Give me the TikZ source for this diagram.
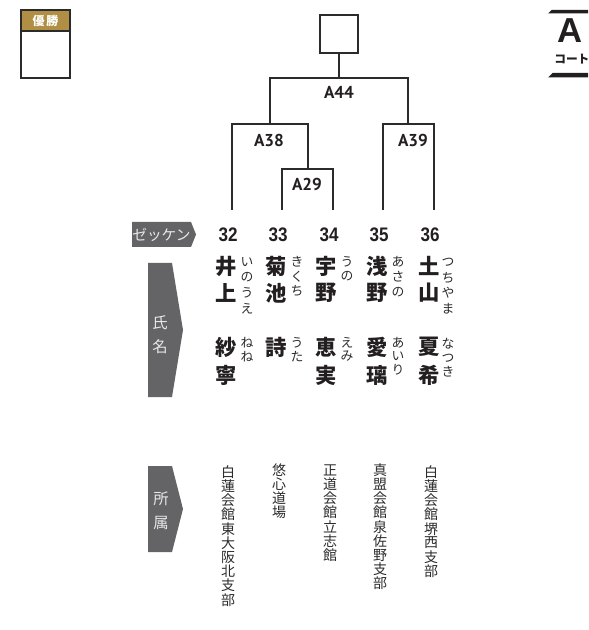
\documentclass[tikz,border=0pt]{standalone}
\usepackage{fontspec}
\setmainfont{Liberation Sans}
\newfontfamily\jp{Noto Sans CJK JP}
\newfontfamily\lab{PT Sans}
\definecolor{ink}{HTML}{2B2B2B}
\definecolor{tagc}{HTML}{646466}
\definecolor{gold}{HTML}{B08F45}
\definecolor{tagtxt}{HTML}{E8E8E8}
\definecolor{txt}{HTML}{231F20}
\newcommand\vstk[6]{% style, name, x, y of first, step, list
  \foreach \c [count=\i from 0] in {#6} {\node[#1] (#2-\i) at ({#3},{#4+\i*#5}) {\c};}}
\begin{document}
\begin{tikzpicture}[x=0.75pt,y=-0.75pt,
  br/.style={draw=ink,line width=1.5pt,line join=miter},
  rnd/.style={font=\lab\bfseries\fontsize{12.9}{14}\selectfont,text=txt,inner sep=0,anchor=base},
  num/.style={font=\bfseries\fontsize{14.7}{16}\selectfont,text=txt,inner sep=0,anchor=base},
  kj/.style={font=\jp\bfseries\fontsize{16}{18}\selectfont,text=txt,inner sep=0},
  fr/.style={font=\jp\fontsize{9.6}{10}\selectfont,text=ink,inner sep=0},
  af/.style={font=\jp\fontsize{10.5}{11}\selectfont,text=ink,inner sep=0},
  tg/.style={font=\jp\fontsize{11}{12}\selectfont,text=tagtxt,inner sep=0}]
\useasboundingbox (0,0) rectangle (588,630);
\clip (0,0) rectangle (588,630);
% winner badge
\fill[gold] (21,10) rectangle (70,31);
\draw[ink,line width=1.1pt] (21,31) -- (70,31);
\draw[ink,line width=1.8pt] (21,10) rectangle (70,78);
\node[font=\jp\bfseries\fontsize{9}{10}\selectfont,text=white,inner sep=0] (yusho) at (45.5,20.5) {優\,勝};
% court mark
\fill[txt] (548,13.5) -- (551.5,10) -- (600,10) -- (600,13.5) -- cycle;
\fill[txt] (548,77.5) -- (552.5,73) -- (600,73) -- (600,77.5) -- cycle;
\node[font=\bfseries\fontsize{26}{27}\selectfont,text=txt,inner sep=0,anchor=base] (courtA) at (570.5,42.5) {A};
\node[font=\jp\bfseries\fontsize{8.8}{9}\selectfont,text=txt,inner sep=0,anchor=west] (court) at (554,59) {コート};
% bracket
\node[draw=ink,line width=1.2pt,minimum size=28.5pt,inner sep=0] (champ) at (339,34) {};
\coordinate (c32) at (232,210);
\coordinate (c33) at (282,210);
\coordinate (c34) at (332.5,210);
\coordinate (c35) at (383,210);
\coordinate (c36) at (433.5,210);
\coordinate (j29) at (307.5,169);
\coordinate (j38) at (270,124);
\coordinate (j39) at (408,124);
\coordinate (j44) at (339,78);
\draw[br] (c33) |- (j29) -| (c34);
\draw[br] (c32) |- (j38) -| (j29);
\draw[br] (c35) |- (j39) -| (c36);
\draw[br] (j38) |- (j44) -| (j39);
\draw[br] (j44) -- (champ.south);
\node[rnd] (lA44) at (339,99) {A44};
\node[rnd] (lA38) at (269,147) {A38};
\node[rnd] (lA39) at (413,147) {A39};
\node[rnd] (lA29) at (307,191) {A29};
% side tags
\fill[tagc] (132,222) -- (191,222) -- (196,234.5) -- (191,247) -- (132,247) -- cycle;
\node[tg] (tz) at (161.5,234.5) {ゼッケン};
\fill[tagc] (148,263) -- (172,263) -- (183,330) -- (172,397) -- (148,397) -- cycle;
\node[tg,font=\jp\fontsize{11.5}{12}\selectfont] (tn1) at (160,323) {氏};
\node[tg,font=\jp\fontsize{11.5}{12}\selectfont] (tn2) at (160,346.5) {名};
\fill[tagc] (148,466) -- (172,466) -- (183,509) -- (172,552) -- (148,552) -- cycle;
\node[tg,font=\jp\fontsize{11.5}{12}\selectfont] (ta1) at (161,498.5) {所};
\node[tg,font=\jp\fontsize{11.5}{12}\selectfont] (ta2) at (161,523) {属};
% numbers
\node[num] (z32) at (228,242) {\scalebox{0.87}[1]{32}};
\node[num] (z33) at (278,242) {\scalebox{0.87}[1]{33}};
\node[num] (z34) at (329,242) {\scalebox{0.87}[1]{34}};
\node[num] (z35) at (379,242) {\scalebox{0.87}[1]{35}};
\node[num] (z36) at (430,242) {\scalebox{0.87}[1]{36}};
% names
\vstk{kj}{s32}{226}{266}{27}{井,上}
\vstk{kj}{s33}{276}{266}{27}{菊,池}
\vstk{kj}{s34}{326}{266}{27}{宇,野}
\vstk{kj}{s35}{377}{266}{27}{浅,野}
\vstk{kj}{s36}{429}{266}{27}{土,山}
\vstk{kj}{g32}{226}{347}{28}{紗,寧}
\vstk{kj}{g33}{276}{347}{28}{詩}
\vstk{kj}{g34}{326}{347}{28}{恵,実}
\vstk{kj}{g35}{377}{347}{28}{愛,璃}
\vstk{kj}{g36}{429}{347}{28}{夏,希}
% furigana
\vstk{fr}{fs32}{247}{262}{15.5}{い,の,う,え}
\vstk{fr}{fs33}{297}{262}{14.5}{き,く,ち}
\vstk{fr}{fs34}{347}{262}{14.5}{う,の}
\vstk{fr}{fs35}{398}{262}{15}{あ,さ,の}
\vstk{fr}{fs36}{448}{262}{15.5}{つ,ち,や,ま}
\vstk{fr}{fg32}{247}{343}{13.5}{ね,ね}
\vstk{fr}{fg33}{297}{343}{13.5}{う,た}
\vstk{fr}{fg34}{347}{343}{13.5}{え,み}
\vstk{fr}{fg35}{398}{343}{13.5}{あ,い,り}
\vstk{fr}{fg36}{448}{344}{14}{な,つ,き}
% affiliations
\vstk{af}{a32}{228}{472}{14.2}{白,蓮,会,館,東,大,阪,北,支,部}
\vstk{af}{a33}{279}{470}{14.2}{悠,心,道,場}
\vstk{af}{a34}{330}{470}{14.2}{正,道,会,館,立,志,館}
\vstk{af}{a35}{380}{470}{14.2}{真,盟,会,館,泉,佐,野,支,部}
\vstk{af}{a36}{431}{472}{14.2}{白,蓮,会,館,堺,西,支,部}
\end{tikzpicture}
\end{document}
